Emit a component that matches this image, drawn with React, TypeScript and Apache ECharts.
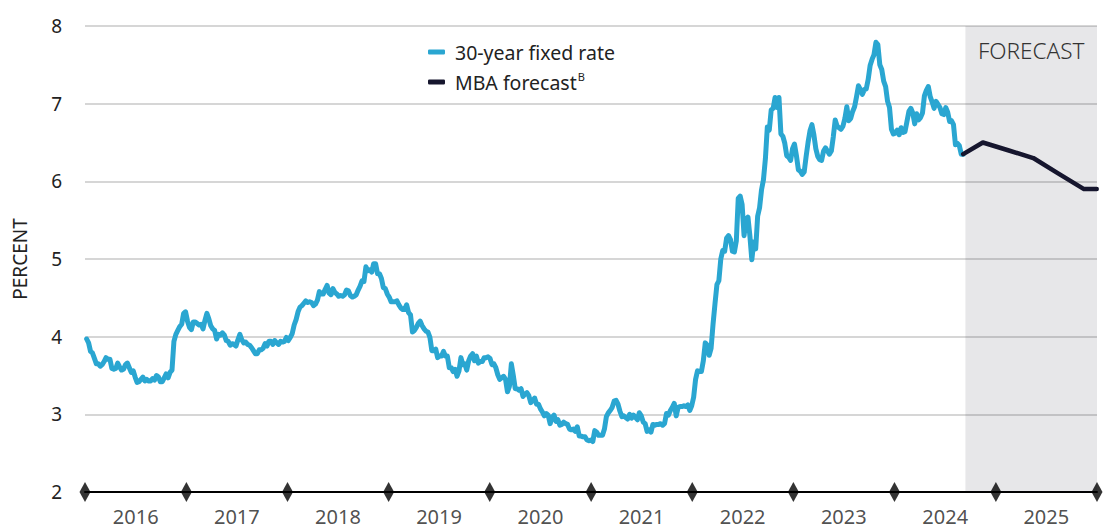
import React, { useEffect, useRef } from "react";
import * as echarts from "echarts";

// Weekly 30-year fixed rate (%), first observation on firstWeek, then every 7 days
const firstWeek = "2016-01-07";
const rates2016 = [3.97, 3.92, 3.81, 3.79, 3.72, 3.65, 3.65, 3.62, 3.64, 3.68, 3.73, 3.71, 3.71, 3.59, 3.58, 3.59, 3.66, 3.61, 3.57, 3.58, 3.64, 3.66, 3.6, 3.54, 3.56, 3.48, 3.41, 3.42, 3.45, 3.48, 3.43, 3.45, 3.43, 3.43, 3.46, 3.44, 3.5, 3.48, 3.42, 3.42, 3.47, 3.52, 3.47, 3.54, 3.57, 3.94, 4.03, 4.08, 4.13, 4.16, 4.3, 4.32];
const rates2017 = [4.2, 4.12, 4.09, 4.19, 4.19, 4.17, 4.15, 4.16, 4.1, 4.21, 4.3, 4.23, 4.14, 4.1, 4.08, 3.97, 4.03, 4.02, 4.05, 4.02, 3.95, 3.94, 3.89, 3.91, 3.9, 3.88, 3.96, 4.03, 3.96, 3.92, 3.93, 3.9, 3.89, 3.86, 3.82, 3.78, 3.78, 3.83, 3.83, 3.85, 3.91, 3.88, 3.94, 3.94, 3.9, 3.95, 3.92, 3.9, 3.94, 3.93, 3.94, 3.99];
const rates2018 = [3.95, 3.99, 4.04, 4.15, 4.22, 4.32, 4.38, 4.4, 4.43, 4.46, 4.44, 4.45, 4.44, 4.4, 4.42, 4.47, 4.58, 4.55, 4.55, 4.61, 4.66, 4.56, 4.54, 4.62, 4.57, 4.55, 4.52, 4.53, 4.52, 4.54, 4.6, 4.59, 4.53, 4.51, 4.52, 4.54, 4.6, 4.65, 4.72, 4.71, 4.9, 4.85, 4.86, 4.83, 4.94, 4.94, 4.81, 4.81, 4.75, 4.63, 4.62, 4.55];
const rates2019 = [4.51, 4.45, 4.45, 4.45, 4.46, 4.41, 4.37, 4.35, 4.35, 4.41, 4.31, 4.28, 4.06, 4.08, 4.12, 4.17, 4.2, 4.14, 4.1, 4.07, 4.06, 3.99, 3.82, 3.82, 3.84, 3.73, 3.75, 3.75, 3.81, 3.75, 3.75, 3.6, 3.6, 3.55, 3.58, 3.49, 3.56, 3.73, 3.64, 3.65, 3.57, 3.69, 3.75, 3.78, 3.69, 3.75, 3.66, 3.68, 3.68, 3.73, 3.73, 3.74];
const rates2020 = [3.72, 3.64, 3.65, 3.6, 3.51, 3.45, 3.47, 3.49, 3.45, 3.29, 3.36, 3.65, 3.5, 3.33, 3.33, 3.31, 3.33, 3.23, 3.26, 3.28, 3.24, 3.15, 3.18, 3.21, 3.13, 3.13, 3.07, 3.03, 2.98, 3.01, 2.99, 2.88, 2.96, 2.99, 2.91, 2.93, 2.86, 2.87, 2.9, 2.88, 2.87, 2.81, 2.8, 2.81, 2.78, 2.84, 2.72, 2.72, 2.71, 2.71, 2.67, 2.66, 2.67];
const rates2021 = [2.65, 2.79, 2.77, 2.73, 2.73, 2.73, 2.81, 2.97, 3.02, 3.05, 3.09, 3.17, 3.18, 3.13, 3.04, 2.97, 2.98, 2.96, 2.94, 3.0, 2.95, 2.99, 2.96, 2.93, 3.02, 2.98, 2.9, 2.88, 2.78, 2.8, 2.77, 2.87, 2.86, 2.87, 2.87, 2.88, 2.86, 2.88, 3.01, 2.99, 3.05, 3.09, 3.14, 2.98, 3.09, 3.1, 3.1, 3.11, 3.1, 3.12, 3.05, 3.11];
const rates2022 = [3.22, 3.45, 3.56, 3.55, 3.55, 3.69, 3.92, 3.89, 3.76, 3.85, 4.16, 4.42, 4.67, 4.72, 5.0, 5.11, 5.1, 5.27, 5.3, 5.25, 5.1, 5.09, 5.23, 5.78, 5.81, 5.7, 5.3, 5.51, 5.54, 5.3, 4.99, 5.22, 5.13, 5.55, 5.66, 5.89, 6.02, 6.29, 6.7, 6.66, 6.92, 6.94, 7.08, 6.95, 7.08, 6.61, 6.58, 6.49, 6.33, 6.31, 6.27, 6.42];
const rates2023 = [6.48, 6.33, 6.15, 6.13, 6.09, 6.12, 6.32, 6.5, 6.65, 6.73, 6.6, 6.42, 6.32, 6.28, 6.27, 6.39, 6.43, 6.39, 6.35, 6.39, 6.57, 6.79, 6.71, 6.69, 6.67, 6.71, 6.81, 6.96, 6.78, 6.81, 6.9, 6.96, 7.09, 7.23, 7.18, 7.12, 7.18, 7.19, 7.31, 7.49, 7.57, 7.63, 7.79, 7.76, 7.5, 7.44, 7.29, 7.22, 7.03, 6.95, 6.67, 6.61];
const rates2024 = [6.62, 6.66, 6.6, 6.69, 6.63, 6.64, 6.77, 6.9, 6.94, 6.88, 6.74, 6.87, 6.79, 6.82, 6.88, 7.1, 7.17, 7.22, 7.09, 7.02, 6.94, 7.03, 6.99, 6.95, 6.87, 6.86, 6.95, 6.89, 6.77, 6.78, 6.73, 6.47, 6.49, 6.46, 6.35, 6.35];

// MBA forecast (%)
const forecastDates = ["2024-09-05", "2024-11-15", "2025-02-14", "2025-05-16", "2025-08-15", "2025-11-15", "2025-12-31"];
const forecastValues = [6.35, 6.5, 6.4, 6.3, 6.1, 5.9, 5.9];
const forecastStart = "2024-09-13";
const forecastEnd = "2026-01-01";

// Axis
const yearLabels = ["2016", "2017", "2018", "2019", "2020", "2021", "2022", "2023", "2024", "2025"];
const yearBoundaries = ["2016-01-01", "2017-01-01", "2018-01-01", "2019-01-01", "2020-01-01", "2021-01-01", "2022-01-01", "2023-01-01", "2024-01-01", "2025-01-01", "2026-01-01"];
const yMin = 2;
const yMax = 8;
const yStep = 1;

const FONT = "'Noto Sans', 'Open Sans', sans-serif";
const BLUE = "#2aa6d1";
const NAVY = "#16162e";

const toTime = (s: string) => new Date(s + "T00:00:00").getTime();

export default function App() {
  const ref = useRef<HTMLDivElement>(null);

  useEffect(() => {
    if (!ref.current) return;
    const chart = echarts.init(ref.current, undefined, { renderer: "svg" });

    const allRates = [
      ...rates2016, ...rates2017, ...rates2018, ...rates2019, ...rates2020,
      ...rates2021, ...rates2022, ...rates2023, ...rates2024,
    ];
    const start = toTime(firstWeek);
    const week = 7 * 24 * 3600 * 1000;
    const weekly = allRates.map((v, i) => [start + i * week, v]);
    const forecast = forecastDates.map((d, i) => [toTime(d), forecastValues[i]]);
    const diamonds = yearBoundaries.map((d) => [toTime(d), yMin]);
    const labelPts = yearLabels.map((y) => [toTime(y + "-07-02"), yMin]);

    chart.setOption({
      animation: false,
      grid: { left: 85, right: 11, top: 26, bottom: 37, containLabel: false },
      legend: {
        data: ["30-year fixed rate", "MBA forecast"],
        orient: "vertical",
        left: 428,
        top: 42,
        padding: 0,
        itemWidth: 17,
        itemHeight: 5,
        itemGap: 9,
        icon: "roundRect",
        selectedMode: false,
        formatter: (name: string) => (name === "MBA forecast" ? "MBA forecast{sup|B}" : name),
        textStyle: {
          fontFamily: FONT,
          fontSize: 19.5,
          color: "#222",
          padding: [0, 0, 0, 5],
          rich: {
            sup: { fontFamily: FONT, fontSize: 11, color: "#222", padding: [0, 0, 11, 1] },
          },
        },
      },
      xAxis: {
        type: "time",
        min: toTime(yearBoundaries[0]),
        max: toTime(yearBoundaries[yearBoundaries.length - 1]),
        axisLine: { show: true, lineStyle: { color: "#000", width: 2 } },
        axisTick: { show: false },
        axisLabel: { show: false },
        splitLine: { show: false },
      },
      yAxis: {
        type: "value",
        min: yMin,
        max: yMax,
        interval: yStep,
        name: "PERCENT",
        nameLocation: "middle",
        nameGap: 56,
        nameRotate: 90,
        nameTextStyle: { fontFamily: FONT, fontSize: 19, color: "#222" },
        axisLine: { show: false },
        axisTick: { show: false },
        axisLabel: { fontFamily: FONT, fontSize: 19, color: "#222", margin: 23 },
        splitLine: { show: true, lineStyle: { color: "#c8c8c8", width: 1.5 } },
      },
      series: [
        {
          name: "30-year fixed rate",
          type: "line",
          data: weekly,
          showSymbol: false,
          z: 3,
          color: BLUE,
          lineStyle: { color: BLUE, width: 5, join: "round", cap: "round" },
        },
        {
          name: "MBA forecast",
          type: "line",
          data: forecast,
          showSymbol: false,
          z: 4,
          color: NAVY,
          lineStyle: { color: NAVY, width: 4.5, join: "round", cap: "round" },
          markArea: {
            silent: true,
            itemStyle: { color: "rgba(20,24,40,0.1)" },
            label: {
              show: true,
              position: "insideTop",
              distance: 13,
              fontFamily: FONT,
              fontSize: 22.5,
              fontWeight: 300,
              color: "#333",
            },
            data: [[
              { name: "FORECAST", xAxis: toTime(forecastStart), yAxis: yMax },
              { xAxis: toTime(forecastEnd), yAxis: yMin },
            ]],
          },
        },
        {
          name: "yearMarks",
          type: "scatter",
          data: diamonds,
          symbol: "diamond",
          symbolSize: [11, 20],
          itemStyle: { color: "#000" },
          clip: false,
          silent: true,
          z: 10,
        },
        {
          name: "yearLabels",
          type: "scatter",
          data: labelPts,
          symbolSize: 0,
          clip: false,
          silent: true,
          z: 10,
          label: {
            show: true,
            position: "bottom",
            distance: 14,
            fontFamily: FONT,
            fontSize: 20,
            color: "#222",
            formatter: (p: any) => yearLabels[p.dataIndex],
          },
        },
      ],
    });

    return () => chart.dispose();
  }, []);

  return (
    <div
      ref={ref}
      style={{ position: "fixed", left: 0, top: 0, width: 1108, height: 529, background: "#fff" }}
    />
  );
}
